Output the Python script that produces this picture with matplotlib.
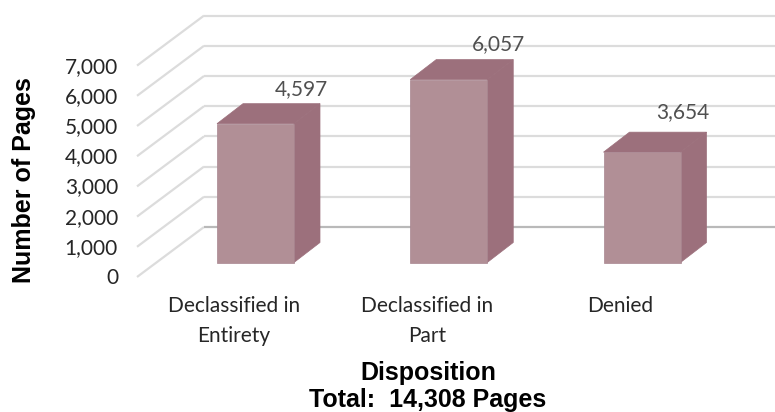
import matplotlib
matplotlib.use('Agg')
import matplotlib.pyplot as plt
from matplotlib.patches import Polygon

categories = ['Declassified in\nEntirety', 'Declassified in\nPart', 'Denied']
pages = [4597, 6057, 3654]
value_labels = ['4,597', '6,057', '3,654']
ticks = [0, 1000, 2000, 3000, 4000, 5000, 6000, 7000]
tick_labels = ['0', '1,000', '2,000', '3,000', '4,000', '5,000', '6,000', '7,000']

W, H = 775, 412
PX_PER_CAT = 193.25     # pixels between bars
PX_PER_VAL = 0.0302     # pixels per page
X0, Y0 = 255.5, 262.5   # pixel position of first bar centre, value 0

fig = plt.figure(figsize=(W / 100, H / 100), dpi=100)
ax = fig.add_axes([0, 0, 1, 1])
ax.set_xlim(-X0 / PX_PER_CAT, (W - X0) / PX_PER_CAT)
ax.set_ylim((Y0 - H) / PX_PER_VAL, Y0 / PX_PER_VAL)
ax.axis('off')


def dx(px):
    return px / PX_PER_CAT


def dy(px):
    # px measured upwards
    return px / PX_PER_VAL


# fake 3D walls
BACK_X, BACK_UP = -51.5, 35.5
for v in ticks:
    x_back = dx(BACK_X)
    y_back = v + dy(BACK_UP)
    color = '#b9b9b9' if v == 0 else '#dcdcdc'
    ax.plot([x_back - dx(67), x_back], [y_back - dy(50), y_back], color='#dcdcdc', lw=1.6, zorder=1,
            solid_capstyle='butt')
    ax.plot([x_back, dx(W - X0)], [y_back, y_back], color=color, lw=1.6, zorder=1,
            solid_capstyle='butt')

# bars
half_w = dx(38.5)
depth_x, depth_y = dx(26), dy(20)
front_c, dark_c = '#b18f96', '#9c707c'
for i, v in enumerate(pages):
    l, r = i - half_w, i + half_w
    ax.add_patch(Polygon([(r, 0), (r + depth_x, depth_y), (r + depth_x, v + depth_y), (r, v)],
                         fc=dark_c, ec=dark_c, lw=0.5, zorder=2))
    ax.add_patch(Polygon([(l, v), (l + depth_x, v + depth_y), (r + depth_x, v + depth_y), (r, v)],
                         fc=dark_c, ec=dark_c, lw=0.5, zorder=2))
    ax.bar(i, v, width=2 * half_w, color=front_c, edgecolor='#a88690', lw=0.5, zorder=3)

# value labels, offsets in pixels since they sit by hand in the original
label_off = [(45.5, 35), (50, 35), (41, 40)]
for i, v in enumerate(pages):
    ax.text(i + dx(label_off[i][0]), v + dy(label_off[i][1]), value_labels[i], ha='center', va='center',
            family='Lato', fontsize=15, color='#505050', zorder=4)

# y tick labels
for v, s in zip(ticks, tick_labels):
    ax.text(dx(118 - X0), v - dy(15.5), s, ha='right', va='center', family='Lato', fontsize=15,
            color='#262626')

# category labels
for i, c in enumerate(categories):
    ax.text(i - dx(21.5), dy(Y0 - 296), c, ha='center', va='top', family='Lato', fontsize=15,
            color='#262626', linespacing=1.62)

# axis titles
bold = dict(family='Liberation Sans', fontweight='bold', fontsize=18, color='black', ha='center', va='center')
ax.text(dx(24 - X0), dy(Y0 - 180), 'Number of Pages', rotation=90, **bold)
ax.text(dx(428 - X0), dy(Y0 - 373), 'Disposition', **bold)
ax.text(dx(428 - X0), dy(Y0 - 400), 'Total:  14,308 Pages', **bold)

fig.savefig('out.png', dpi=100)
